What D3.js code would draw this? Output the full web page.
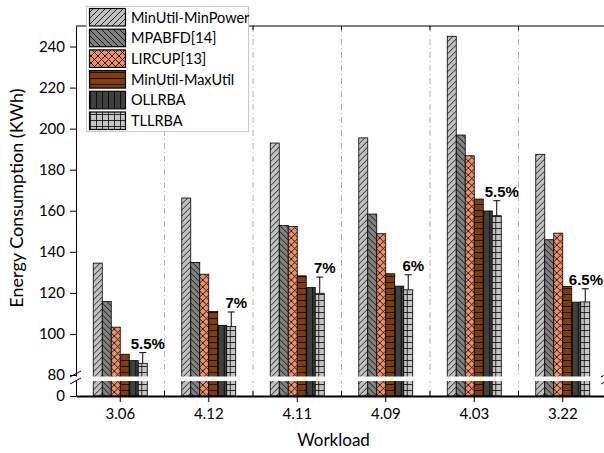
<!DOCTYPE html>
<html>
<head>
<meta charset="utf-8">
<script src="https://cdn.jsdelivr.net/npm/d3@7"></script>
<style>
  body { margin: 0; background: #fff; }
  svg { display: block; }
</style>
</head>
<body>
<div id="chart"></div>
<script>
// values
const workloads = ['3.06', '4.12', '4.11', '4.09', '4.03', '3.22'];
const seriesNames = ['MinUtil-MinPower', 'MPABFD[14]', 'LIRCUP[13]', 'MinUtil-MaxUtil', 'OLLRBA', 'TLLRBA'];
const minPower = [134.5, 166.2, 193, 195.5, 245, 187.5];
const mpabfd = [115.8, 134.8, 152.8, 158.4, 196.9, 145.9];
const lircup = [103.3, 129.1, 152.3, 148.8, 186.8, 149.1];
const maxUtil = [90.1, 110.9, 128.3, 129.3, 165.7, 123.1];
const ollrba = [87, 104.2, 122.6, 123.3, 159.9, 115.5];
const tllrba = [85.7, 103.6, 119.8, 121.5, 157.6, 115.6];
const tllrbaErr = [5.2, 7.1, 7.9, 7.3, 7.3, 6.4];
const gainLabels = ['5.5%', '7%', '7%', '6%', '5.5%', '6.5%'];
const yTicks = [0, 80, 100, 120, 140, 160, 180, 200, 220, 240];

const seriesValues = [minPower, mpabfd, lircup, maxUtil, ollrba, tllrba];
const patternIds = ['p-fwd', 'p-back', 'p-cross', 'p-horiz', 'p-vert', 'p-grid'];

const width = 604, height = 453;
const plotL = 76, plotR = 607, plotT = 26, plotB = 396;
const font = 'Lato, "Open Sans", sans-serif';

const svg = d3.select('#chart').append('svg').attr('width', width).attr('height', height);

// fill patterns
const defs = svg.append('defs');
function pattern(id, size, fill, d) {
    const p = defs.append('pattern').attr('id', id).attr('patternUnits', 'userSpaceOnUse')
        .attr('width', size).attr('height', size);
    p.append('rect').attr('width', size).attr('height', size).attr('fill', fill);
    p.append('path').attr('d', d).attr('stroke', '#000').attr('stroke-width', 0.8).attr('fill', 'none');
}
pattern('p-fwd', 6, '#c0c0c0', 'M0,6L6,0M-1,1L1,-1M5,7L7,5');
pattern('p-back', 6, '#808080', 'M0,0L6,6M-1,5L1,7M5,-1L7,1');
pattern('p-cross', 7, '#e8916b', 'M0,0L7,7M0,7L7,0M-1,1L1,-1M6,8L8,6M-1,6L1,8M6,-1L8,1');
pattern('p-horiz', 6, '#7f3f00', 'M0,0.5H6');
pattern('p-vert', 6, '#404040', 'M0.5,0V6');
pattern('p-grid', 6, '#c4c4c4', 'M0,0.5H6M0.5,0V6');

const x0 = d3.scaleBand().domain(workloads).range([plotL, plotR]).paddingInner(0.39).paddingOuter(0.195);
const x1 = d3.scaleBand().domain(seriesNames).range([0, x0.bandwidth()]);
const y = d3.scaleLinear().domain([0, 80, 250]).range([plotB, 375, plotT]);

const step = x0.step();
const bounds = d3.range(1, workloads.length).map(i => plotL + i * step);

// dash-dot separators
svg.append('g').selectAll('line').data(bounds).enter().append('line')
    .attr('x1', d => d).attr('x2', d => d).attr('y1', plotT).attr('y2', plotB)
    .attr('stroke', '#b4b4b4').attr('stroke-width', 1).attr('stroke-dasharray', '6,3,1,3');

// bars
const groups = svg.append('g').selectAll('g').data(workloads).enter().append('g')
    .attr('transform', d => `translate(${x0(d)},0)`);
groups.selectAll('rect').data((w, i) => seriesNames.map((s, k) => ({s, k, v: seriesValues[k][i]})))
    .enter().append('rect')
    .attr('x', d => x1(d.s)).attr('width', x1.bandwidth())
    .attr('y', d => y(d.v)).attr('height', d => y(0) - y(d.v))
    .attr('fill', d => `url(#${patternIds[d.k]})`)
    .attr('stroke', '#000').attr('stroke-width', 0.8);

// axis break band
svg.append('rect').attr('x', plotL - 3).attr('y', 376.5).attr('width', plotR - plotL + 6).attr('height', 4.5).attr('fill', '#fff');

// y axis
const yAxis = svg.append('g').attr('transform', `translate(${plotL},0)`)
    .call(d3.axisLeft(y).tickValues(yTicks).tickSize(6).tickSizeOuter(0).tickPadding(5));
yAxis.selectAll('text').attr('font-family', font).attr('font-size', 15).attr('fill', '#000');
yAxis.selectAll('line').attr('stroke', '#000');
yAxis.select('.domain').attr('stroke', '#000');
svg.append('rect').attr('x', plotL - 3).attr('y', 376.5).attr('width', 6).attr('height', 4.5).attr('fill', '#fff');

// top line with minor ticks
svg.append('line').attr('x1', plotL).attr('x2', plotR).attr('y1', plotT).attr('y2', plotT).attr('stroke', '#000');
svg.append('g').selectAll('line').data(bounds).enter().append('line')
    .attr('x1', d => d).attr('x2', d => d).attr('y1', plotT).attr('y2', plotT + 4).attr('stroke', '#000');

// x axis
const xAxis = svg.append('g').attr('transform', `translate(0,${plotB})`)
    .call(d3.axisBottom(x0).tickSize(6).tickSizeOuter(0).tickPadding(6));
xAxis.selectAll('text').attr('font-family', font).attr('font-size', 15).attr('fill', '#000');
xAxis.selectAll('line').attr('stroke', '#000');
xAxis.select('.domain').attr('stroke', '#000').attr('stroke-width', 2);
svg.append('g').selectAll('line').data(bounds).enter().append('line')
    .attr('x1', d => d).attr('x2', d => d).attr('y1', plotB - 5).attr('y2', plotB).attr('stroke', '#000');

// break marks on both vertical axes
[plotL, plotR].forEach(ax => {
    svg.append('path').attr('d', `M${ax - 6},377 L${ax + 5},371 M${ax - 6},384 L${ax + 5},378`)
        .attr('stroke', '#000').attr('stroke-width', 1).attr('fill', 'none');
});

// error bars + gain labels on TLLRBA
const eb = svg.append('g');
workloads.forEach((w, i) => {
    const cx = x0(w) + x1('TLLRBA') + x1.bandwidth() / 2;
    const yTop = y(tllrba[i] + tllrbaErr[i]);
    eb.append('line').attr('x1', cx).attr('x2', cx).attr('y1', y(tllrba[i])).attr('y2', yTop).attr('stroke', '#000');
    eb.append('line').attr('x1', cx - 3.5).attr('x2', cx + 3.5).attr('y1', yTop).attr('y2', yTop).attr('stroke', '#000');
    const t = eb.append('text').attr('y', yTop - 4).attr('text-anchor', 'middle')
        .attr('font-family', '"Liberation Sans", Arial, sans-serif').attr('font-weight', 'bold')
        .attr('font-size', 15).text(gainLabels[i]);
    const half = t.node().getComputedTextLength() / 2;
    t.attr('x', Math.min(cx + 5, width - 1 - half));
});

// axis titles
svg.append('text').attr('x', (plotL + plotR) / 2 - 8).attr('y', 446).attr('text-anchor', 'middle')
    .attr('font-family', font).attr('font-size', 17).text('Workload');
svg.append('text').attr('transform', `translate(23,198) rotate(-90)`).attr('text-anchor', 'middle')
    .attr('font-family', font).attr('font-size', 18).text('Energy Consumption (KWh)');

// legend
const lg = svg.append('g');
lg.append('rect').attr('x', 86.5).attr('y', 6.5).attr('width', 162).attr('height', 125)
    .attr('fill', '#fff').attr('stroke', '#c8c8c8');
seriesNames.forEach((s, k) => {
    const ry = 8.5 + k * 20.7;
    lg.append('rect').attr('x', 89.5).attr('y', ry).attr('width', 36).attr('height', 17.5)
        .attr('fill', `url(#${patternIds[k]})`).attr('stroke', '#000').attr('stroke-width', 1.2);
    lg.append('text').attr('x', 131).attr('y', ry + 9).attr('dy', '0.35em')
        .attr('font-family', font).attr('font-size', 14.5).text(s);
});
</script>
</body>
</html>
